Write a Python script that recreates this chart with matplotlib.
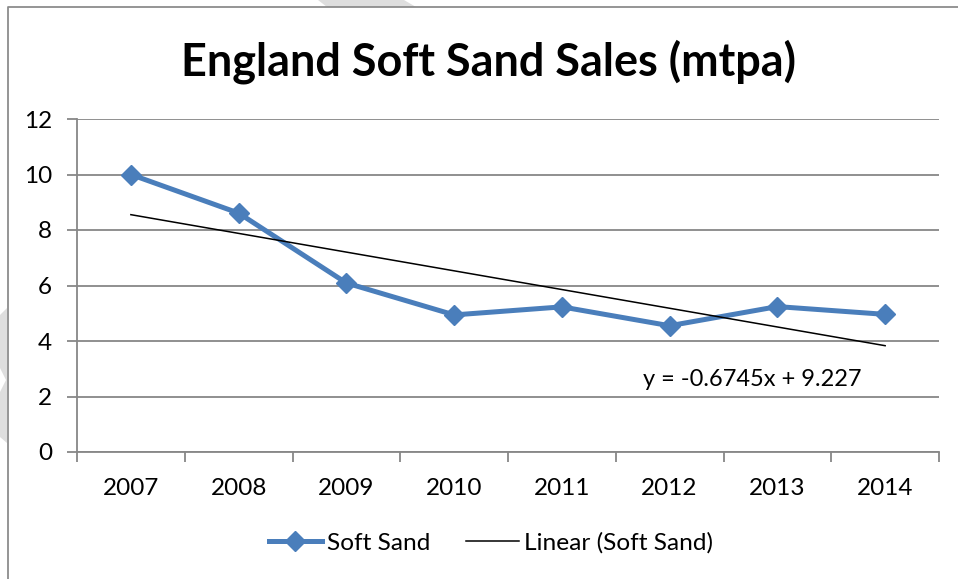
import matplotlib
matplotlib.use('Agg')
import matplotlib.pyplot as plt
import matplotlib.patches as patches
from matplotlib.lines import Line2D
import numpy as np

plt.rcParams['font.family'] = ['Lato', 'DejaVu Sans']

years = ['2007', '2008', '2009', '2010', '2011', '2012', '2013', '2014']
soft_sand = [10.0, 8.61, 6.09, 4.94, 5.23, 4.55, 5.24, 4.96]
trend_slope = -0.6745
trend_intercept = 9.227
y_ticks = [0, 2, 4, 6, 8, 10, 12]

W, H = 958, 579
BLUE = '#4a7ebb'
GRID = '#878787'


def px(x, y):
    # pixel position in the picture -> figure fraction
    return x / W, 1 - y / H


fig = plt.figure(figsize=(W / 100, H / 100), dpi=100)

# faint bits of the page watermark peeking out around the chart box
wm_top = [px(318, 0), px(404, 0), px(416, 7), px(327, 7)]
wm_left = [px(0, 315), px(7, 308), px(7, 443), px(0, 437), px(0, 392), px(6, 380), px(0, 368)]
for pts in (wm_top, wm_left):
    fig.add_artist(patches.Polygon(pts, closed=True, transform=fig.transFigure,
                                   facecolor='#dedede', edgecolor='none'))

# chart border (left and top edges visible)
fig.add_artist(Line2D([px(8, 0)[0], px(8, 0)[0], 1], [0, px(0, 7)[1], px(0, 7)[1]],
                      transform=fig.transFigure, color='#8c8c8c', lw=1.3))

ax = fig.add_axes([77 / W, 1 - 452 / H, 862 / W, 333 / H])
ax.set_facecolor('none')

x = np.arange(len(years))
ax.plot(x, soft_sand, color=BLUE, lw=3.6, marker='D', markersize=10.5,
        label='Soft Sand', zorder=3)

xt = np.array([x[0], x[-1]]) + 1
ax.plot(x[[0, -1]], trend_slope * xt + trend_intercept, color='black', lw=1.1,
        label='Linear (Soft Sand)', zorder=4)

ax.text(4.75, 2.6, f'y = {trend_slope}x + {trend_intercept}', fontsize=17,
        va='center', ha='left')

ax.set_xlim(-0.5, len(years) - 0.5)
ax.set_ylim(0, 12)
ax.set_yticks(y_ticks)
ax.set_xticks(x)
ax.set_xticklabels(years)
ax.set_xticks(np.arange(len(years) + 1) - 0.5, minor=True)
ax.tick_params(axis='x', which='major', length=0, pad=19, labelsize=17.5)
ax.tick_params(axis='x', which='minor', length=7, width=1.3, color=GRID)
ax.tick_params(axis='y', length=7, width=1.3, color=GRID, pad=11, labelsize=17.5)

ax.grid(axis='y', color=GRID, lw=1.3)
ax.set_axisbelow(True)
for s in ('top', 'right'):
    ax.spines[s].set_visible(False)
for s in ('left', 'bottom'):
    ax.spines[s].set_color(GRID)
    ax.spines[s].set_linewidth(1.3)

fig.text(*px(488, 62), 'England Soft Sand Sales (mtpa)', fontsize=32.4,
         fontweight='bold', ha='center', va='center')

fig.legend(loc='center', bbox_to_anchor=px(491, 543), ncol=2, frameon=False,
           fontsize=17.6, handlelength=2.17, handletextpad=0.2, columnspacing=1.47)

fig.savefig('out.png', dpi=100, facecolor='white')
